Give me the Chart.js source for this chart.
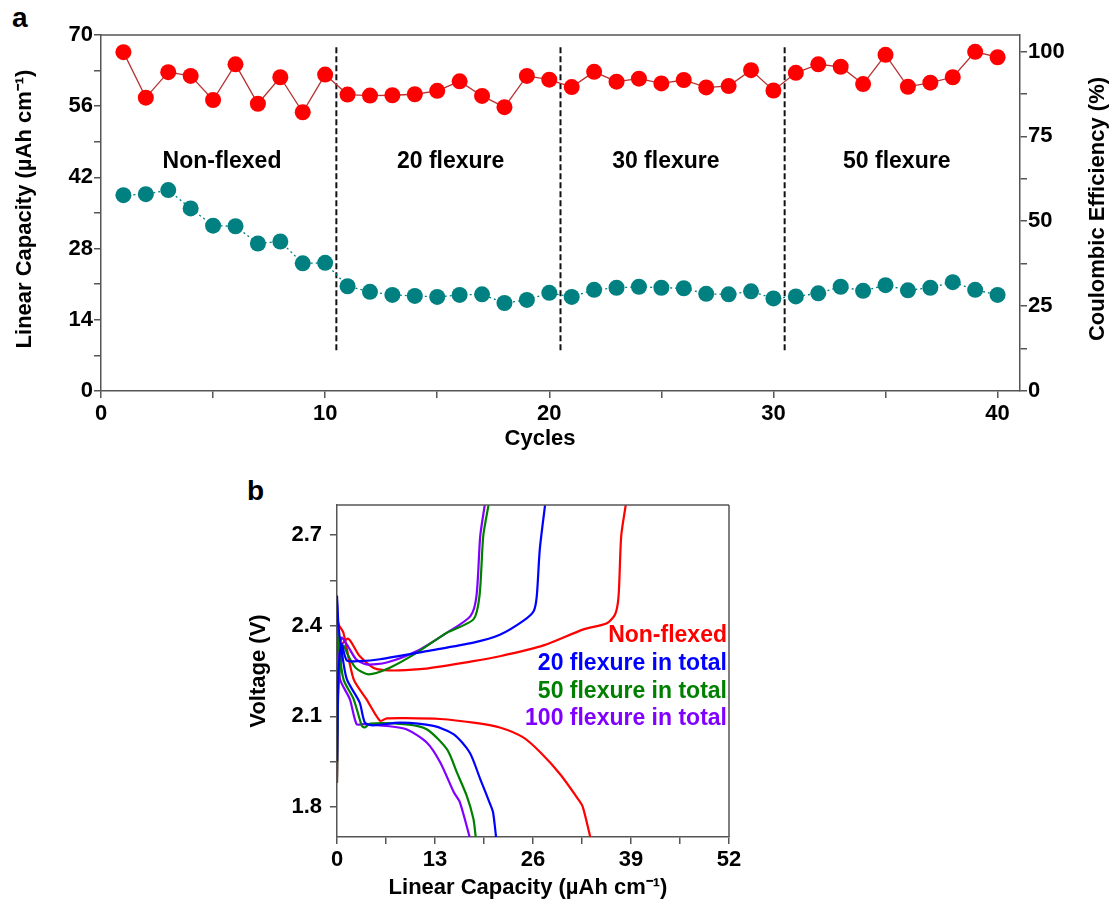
<!DOCTYPE html>
<html>
<head>
<meta charset="utf-8">
<title>Linear capacity and voltage profiles</title>
<script src="https://cdn.jsdelivr.net/npm/chart.js@4.4.0/dist/chart.umd.min.js"></script>
<style>
    html, body { margin: 0; padding: 0; background: #fff; }
    body { width: 1113px; height: 903px; position: relative; overflow: hidden; font-family: 'Liberation Sans', Arial, sans-serif; }
    .panel-tag { position: absolute; font-weight: bold; font-size: 28px; line-height: 1; color: #000; }
    #boxA { position: absolute; left: 0; top: 0; }
    #boxB { position: absolute; left: 0; top: 460px; }
</style>
</head>
<body>
<div class="panel-tag" style="left:12px; top:4px;">a</div>
<div class="panel-tag" style="left:247px; top:477px;">b</div>
<canvas id="boxA" width="1113" height="460"></canvas>
<canvas id="boxB" width="1113" height="443"></canvas>

<script>
// ---- panel a : cycling data ----
const cycles = [1,2,3,4,5,6,7,8,9,10,11,12,13,14,15,16,17,18,19,20,21,22,23,24,25,26,27,28,29,30,31,32,33,34,35,36,37,38,39,40];
const linearCapacity = [38.5,38.7,39.5,35.9,32.5,32.4,29.0,29.4,25.1,25.2,
                        20.6,19.5,18.9,18.7,18.5,18.9,19.0,17.3,17.9,19.3,
                        18.5,19.9,20.3,20.5,20.3,20.2,19.1,19.0,19.6,18.2,
                        18.6,19.2,20.5,19.7,20.8,19.8,20.3,21.4,19.9,18.9];
const coulombicEff = [99.8,86.4,93.9,92.8,85.7,96.2,84.6,92.4,82.1,93.2,
                      87.3,87.0,87.1,87.4,88.4,91.2,86.9,83.6,92.8,91.7,
                      89.5,94.0,91.1,92.0,90.6,91.6,89.4,89.8,94.5,88.5,
                      93.7,96.2,95.5,90.4,99.0,89.6,90.8,92.4,99.9,98.3];
const dividerCycles = [10.5, 20.5, 30.5];
const dividerSpan = [8, 68.2];
const stageLabels = ['Non-flexed', '20 flexure', '30 flexure', '50 flexure'];
const stageLabelCycle = [5.4, 15.6, 25.2, 35.5];
const stageLabelCap = 45;

// ---- panel b : voltage profiles (capacity in µAh cm-1, voltage in V) ----
const nonFlexChargeCap = [0, 0.15, 0.5, 1.5, 3.0, 5.3, 11, 18.1, 21.6, 27.4, 32.7, 35.8, 36.9, 37.35, 37.7, 38.3];
const nonFlexChargeV   = [1.88, 2.2, 2.33, 2.357, 2.30, 2.256, 2.256, 2.283, 2.299, 2.335, 2.388, 2.408, 2.438, 2.498, 2.697, 2.80];
const nonFlexDischCap  = [0, 0.3, 0.85, 2.2, 3.9, 5.7, 6.6, 9.2, 13.7, 18.1, 21.6, 24.7, 27.0, 29.6, 32.0, 32.6, 33.6];
const nonFlexDischV    = [2.42, 2.40, 2.377, 2.223, 2.157, 2.085, 2.093, 2.094, 2.091, 2.079, 2.063, 2.030, 1.98, 1.908, 1.825, 1.80, 1.70];

const flex20ChargeCap = [0, 0.2, 0.6, 1.3, 3.0, 5.7, 11.9, 18.1, 21.6, 24.7, 26.1, 26.5, 26.9, 27.6];
const flex20ChargeV   = [1.95, 2.25, 2.34, 2.285, 2.283, 2.289, 2.316, 2.344, 2.37, 2.416, 2.449, 2.498, 2.653, 2.80];
const flex20DischCap  = [0, 0.2, 0.6, 1.3, 3.0, 3.7, 4.8, 8.4, 12.8, 15.5, 17.6, 19.0, 20.3, 20.7, 21.1];
const flex20DischV    = [2.50, 2.40, 2.32, 2.223, 2.146, 2.079, 2.07, 2.079, 2.068, 2.04, 1.98, 1.892, 1.81, 1.782, 1.70];

const flex50ChargeCap = [0, 0.2, 0.85, 1.5, 2.5, 4.2, 7.0, 10.6, 14.6, 18.1, 18.9, 19.4, 20.1];
const flex50ChargeV   = [1.88, 2.2, 2.333, 2.30, 2.26, 2.239, 2.261, 2.311, 2.377, 2.421, 2.498, 2.697, 2.80];
const flex50DischCap  = [0, 0.2, 0.85, 2.2, 3.3, 3.7, 4.4, 9.2, 11.9, 14.6, 15.9, 17.2, 18.1, 18.4];
const flex50DischV    = [2.47, 2.35, 2.223, 2.157, 2.068, 2.063, 2.076, 2.073, 2.057, 1.99, 1.914, 1.837, 1.76, 1.70];

const flex100ChargeCap = [0, 0.15, 0.6, 1.5, 2.5, 3.9, 6.6, 10.6, 14.6, 17.7, 18.5, 19.0, 19.6];
const flex100ChargeV   = [1.90, 2.25, 2.36, 2.33, 2.29, 2.272, 2.278, 2.316, 2.377, 2.432, 2.498, 2.697, 2.80];
const flex100DischCap  = [0, 0.1, 0.4, 1.7, 2.6, 3.5, 6.6, 9.2, 11.9, 13.7, 15.5, 16.3, 17.6];
const flex100DischV    = [2.48, 2.35, 2.223, 2.157, 2.074, 2.074, 2.068, 2.057, 2.013, 1.947, 1.848, 1.815, 1.70];

const legendNames = ['Non-flexed', '20 flexure in total', '50 flexure in total', '100 flexure in total'];
const legendColors = ['#ff0000', '#0000ff', '#008000', '#8000ff'];

(function() {
    'use strict';

    const FONT = "'Liberation Sans', Arial, sans-serif";
    const AXIS = '#555';

    const pts = (xs, ys) => xs.map((x, i) => ({ x: x, y: ys[i] }));

    // axis titles, labels and box edges that chart.js has no option for
    function figText(items, edges) {
        return {
            id: 'figText',
            afterDraw(chart) {
                const ctx = chart.ctx, area = chart.chartArea;
                ctx.save();
                ctx.strokeStyle = AXIS;
                ctx.lineWidth = 1.5;
                ctx.beginPath();
                if (edges.top) { ctx.moveTo(area.left, area.top); ctx.lineTo(area.right, area.top); }
                if (edges.right) { ctx.moveTo(area.right, area.top); ctx.lineTo(area.right, area.bottom); }
                ctx.stroke();
                items.forEach(it => {
                    let x = it.x, y = it.y;
                    if (it.dataX !== undefined) {
                        x = chart.scales.x.getPixelForValue(it.dataX);
                        y = chart.scales[it.axis].getPixelForValue(it.dataY);
                    }
                    ctx.save();
                    ctx.font = 'bold ' + it.size + 'px ' + FONT;
                    ctx.fillStyle = it.color || '#000';
                    ctx.textAlign = it.align || 'center';
                    ctx.textBaseline = 'middle';
                    ctx.translate(x, y);
                    if (it.rotate) ctx.rotate(it.rotate);
                    ctx.fillText(it.text, 0, 0);
                    ctx.restore();
                });
                ctx.restore();
            }
        };
    }

    function axisStyle(extra) {
        return Object.assign({
            type: 'linear',
            grid: { display: true, drawOnChartArea: false, drawTicks: true, tickLength: 7, color: AXIS, lineWidth: 1.5 },
            border: { display: true, color: AXIS, width: 1.5 }
        }, extra);
    }

    function tickFont(cb, pad) {
        return { callback: cb, includeBounds: false, autoSkip: false, maxRotation: 0, padding: pad,
                 color: '#000', font: { family: FONT, size: 22, weight: 'bold' } };
    }

    // ---------- panel a ----------
    const dsA = [
        { data: pts(cycles, coulombicEff), yAxisID: 'yR', showLine: true, borderColor: '#b83232', borderWidth: 1.3,
          pointRadius: 8, pointBackgroundColor: '#ff0000', pointBorderColor: '#ff0000', pointBorderWidth: 0 },
        { data: pts(cycles, linearCapacity), yAxisID: 'y', showLine: true, borderColor: '#008080', borderWidth: 1.3,
          borderDash: [2, 3], pointRadius: 8, pointBackgroundColor: '#008080', pointBorderColor: '#008080', pointBorderWidth: 0 }
    ];
    dividerCycles.forEach(c => {
        dsA.push({ data: pts([c, c], dividerSpan), yAxisID: 'y', showLine: true, borderColor: '#111',
                   borderWidth: 2, borderDash: [6, 3], pointRadius: 0 });
    });

    const textA = stageLabels.map((t, i) => ({ text: t, dataX: stageLabelCycle[i], dataY: stageLabelCap, axis: 'y', size: 23 }));
    textA.push({ text: 'Linear Capacity (\u00b5Ah cm\u207b\u00b9)', x: 25, y: 209, size: 22, rotate: -Math.PI / 2 });
    textA.push({ text: 'Coulombic Efficiency (%)', x: 1098, y: 209, size: 22, rotate: -Math.PI / 2 });
    textA.push({ text: 'Cycles', x: 540, y: 439, size: 22 });

    new Chart(document.getElementById('boxA'), {
        type: 'scatter',
        data: { datasets: dsA },
        options: {
            responsive: false, animation: false, events: [],
            layout: { padding: { top: 35, left: 0, right: 0, bottom: 0 } },
            plugins: { legend: { display: false }, tooltip: { enabled: false } },
            scales: {
                x: axisStyle({ min: 0, max: 41, position: 'bottom',
                    ticks: Object.assign(tickFont(v => v % 10 === 0 ? v : '', 3), { stepSize: 5 }),
                    afterFit: s => { s.height = 69; } }),
                y: axisStyle({ min: 0, max: 70, position: 'left',
                    ticks: Object.assign(tickFont(v => v % 14 === 0 ? v : '', 1), { stepSize: 7 }),
                    afterFit: s => { s.width = 101; } }),
                yR: axisStyle({ min: 0, max: 104.85, position: 'right',
                    ticks: Object.assign(tickFont(v => v % 25 === 0 ? v : '', 1), { stepSize: 12.5 }),
                    afterFit: s => { s.width = 93; } })
            }
        },
        plugins: [figText(textA, { top: true })]
    });

    // ---------- panel b ----------
    const curvesB = [
        [flex20ChargeCap, flex20ChargeV, 1], [flex20DischCap, flex20DischV, 1],
        [flex50ChargeCap, flex50ChargeV, 2], [flex50DischCap, flex50DischV, 2],
        [flex100ChargeCap, flex100ChargeV, 3], [flex100DischCap, flex100DischV, 3],
        [nonFlexChargeCap, nonFlexChargeV, 0], [nonFlexDischCap, nonFlexDischV, 0]
    ];
    const dsB = curvesB.map(c => ({
        data: pts(c[0], c[1]), showLine: true, borderColor: legendColors[c[2]], borderWidth: 2.2,
        pointRadius: 0, tension: 0.25
    }));

    const textB = legendNames.map((t, i) => ({ text: t, x: 727, y: 176 + i * 27.6, size: 23, color: legendColors[i], align: 'right' }));
    textB.push({ text: 'Voltage (V)', x: 259, y: 211, size: 22, rotate: -Math.PI / 2 });
    textB.push({ text: 'Linear Capacity (\u00b5Ah cm\u207b\u00b9)', x: 528, y: 428, size: 22 });

    new Chart(document.getElementById('boxB'), {
        type: 'scatter',
        data: { datasets: dsB },
        options: {
            responsive: false, animation: false, events: [],
            layout: { padding: { top: 45, left: 0, right: 384, bottom: 0 } },
            plugins: { legend: { display: false }, tooltip: { enabled: false } },
            scales: {
                x: axisStyle({ min: 0, max: 52, position: 'bottom',
                    ticks: Object.assign(tickFont(v => v % 13 === 0 ? v : '', 3), { stepSize: 6.5 }),
                    afterFit: s => { s.height = 66; } }),
                y: axisStyle({ min: 1.7, max: 2.8, position: 'left',
                    ticks: Object.assign(tickFont(v => Math.round(v * 100) % 30 === 0 ? v.toFixed(1) : '', 8), { stepSize: 0.15 }),
                    afterFit: s => { s.width = 337; } })
            }
        },
        plugins: [figText(textB, { top: true, right: true })]
    });
})();
</script>
</body>
</html>
